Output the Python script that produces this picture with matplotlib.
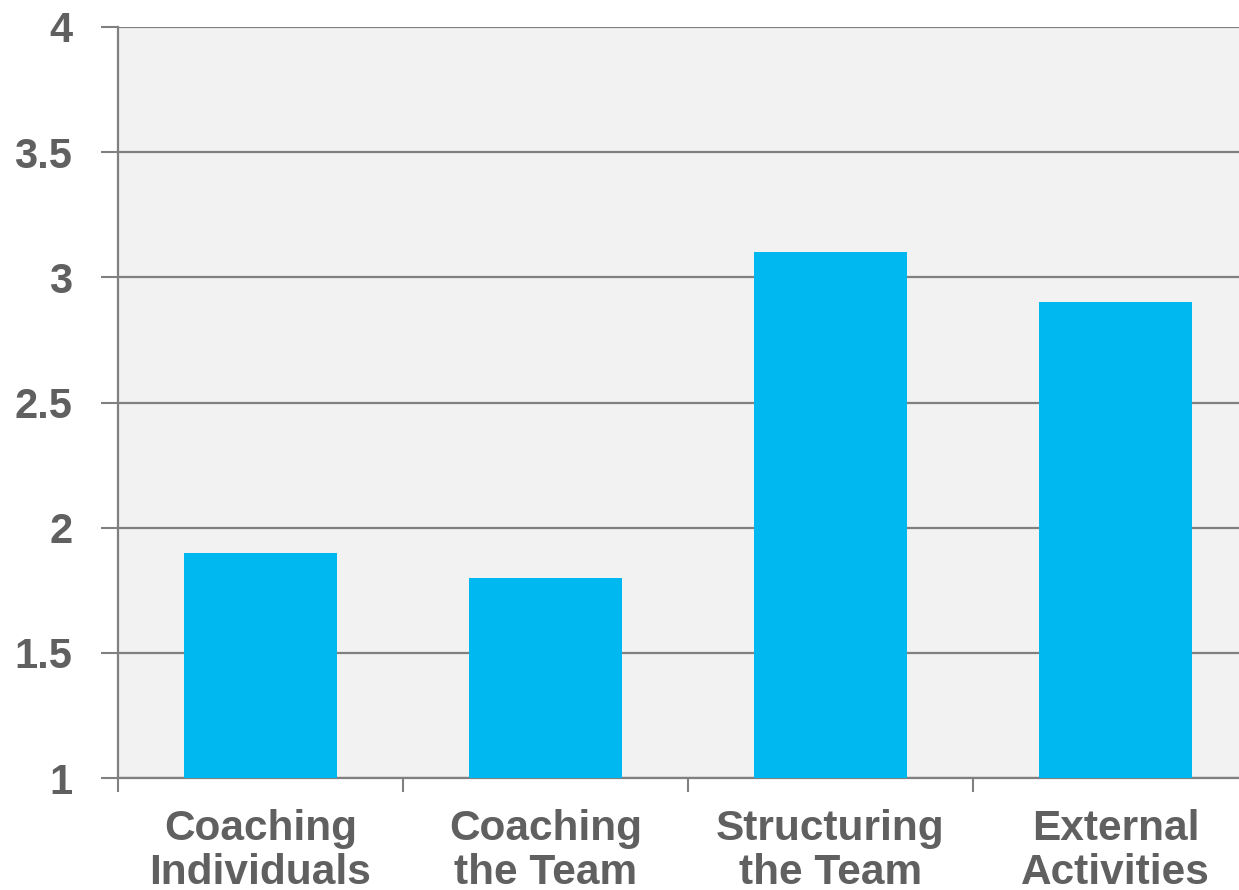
import matplotlib.pyplot as plt
import numpy as np

categories = ['Coaching\nIndividuals', 'Coaching\nthe Team', 'Structuring\nthe Team', 'External\nActivities']
scores = [1.9, 1.8, 3.1, 2.9]
y_ticks = [1, 1.5, 2, 2.5, 3, 3.5, 4]
y_labels = ['1', '1.5', '2', '2.5', '3', '3.5', '4']

text_grey = '#606060'
line_grey = '#808080'

plt.rcParams['font.family'] = ['Liberation Sans', 'DejaVu Sans']
plt.rcParams['font.weight'] = 'bold'

fig = plt.figure(figsize=(12.39, 8.90), dpi=100)
ax = fig.add_axes([118 / 1239, 112 / 890, 1140 / 1239, 751 / 890])
ax.set_facecolor('#f2f2f2')

x = np.arange(len(categories))
ax.bar(x, [s - 1 for s in scores], bottom=1, width=0.54, color='#00b8f0', zorder=3)

ax.set_xlim(-0.5, len(categories) - 0.5)
ax.set_ylim(1, 4)

ax.set_yticks(y_ticks)
ax.set_yticklabels(y_labels, fontsize=30, color=text_grey, fontweight='bold')
ax.tick_params(axis='y', direction='out', length=12, width=1.5, color=line_grey, pad=21)

# boundary ticks between categories, labels sit on centre minor ticks
ax.set_xticks(np.arange(-0.5, len(categories), 1.0))
ax.set_xticklabels([])
ax.tick_params(axis='x', which='major', direction='out', length=10, width=1.5, color=line_grey)
ax.set_xticks(x, minor=True)
ax.set_xticklabels(categories, minor=True, fontsize=30.5, color=text_grey,
                   fontweight='bold', linespacing=1.15)
ax.tick_params(axis='x', which='minor', length=0, pad=22)

ax.grid(axis='y', color=line_grey, linewidth=1.6, zorder=1)
ax.set_axisbelow(True)

for side in ['top', 'right']:
    ax.spines[side].set_visible(False)
for side in ['left', 'bottom']:
    ax.spines[side].set_color(line_grey)
    ax.spines[side].set_linewidth(1.6)

fig.savefig('out.png', dpi=100)
